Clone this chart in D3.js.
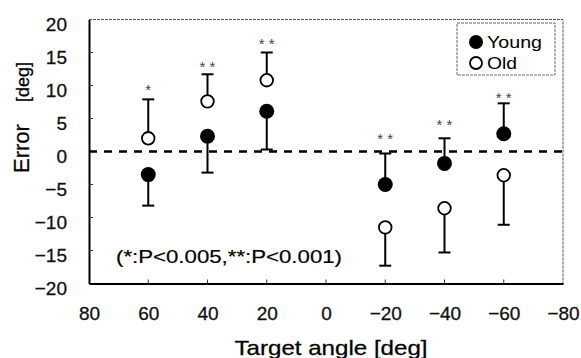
<!DOCTYPE html>
<html>
<head>
<meta charset="utf-8">
<script src="https://cdn.jsdelivr.net/npm/d3@7"></script>
<style>
  body { margin: 0; background: #fff; }
  svg { display: block; font-family: "Liberation Sans", Arial, sans-serif; }
</style>
</head>
<body>
<svg id="chart" width="581" height="358"></svg>
<script>
// target angles (deg)
const angles = [60, 40, 20, -20, -40, -60]
// mean error (deg)
const youngMean = [-3.5, 2.3, 6.1, -5.0, -1.8, 2.7]
const oldMean = [2.0, 7.6, 10.8, -11.5, -8.6, -3.6]
// one-sided SD bars
const youngSd = [4.7, 5.5, 5.8, 4.7, 3.8, 4.6]
const oldSd = [5.9, 4.1, 4.2, 5.8, 6.7, 7.5]
// significance marks and their height (deg)
const stars = ['*', '* *', '* *', '* *', '* *', '* *']
const starLevel = [9.5, 13, 16.4, 2.1, 4.2, 8.3]

const xTicks = [80, 60, 40, 20, 0, -20, -40, -60, -80]
const yTicks = [20, 15, 10, 5, 0, -5, -10, -15, -20]

const margin = { left: 89, top: 19.5, right: 18, bottom: 74.5 }
const width = 581, height = 358
const svg = d3.select('#chart')

const x = d3.scaleLinear().domain([80, -80]).range([margin.left, width - margin.right])
const y = d3.scaleLinear().domain([-20, 20]).range([height - margin.bottom, margin.top])

const minus = d => d < 0 ? '−' + (-d) : d

// frame: faint top / right
svg.append('path')
  .attr('d', `M${x(80)},${y(20)}H${x(-80)}V${y(-20)}`)
  .attr('fill', 'none')
  .attr('stroke', '#555')
  .attr('stroke-width', 1)
  .attr('stroke-dasharray', '3,1')

// axes
const xAxis = svg.append('g')
  .attr('transform', `translate(0,${y(-20)})`)
  .call(d3.axisBottom(x).tickValues(xTicks).tickSize(0).tickPadding(0).tickFormat(minus))
xAxis.select('.domain').attr('stroke', '#000').attr('stroke-width', 2)
xAxis.selectAll('text')
  .attr('y', 36.5)
  .attr('dy', 0)
  .attr('font-size', 19)
  .attr('fill', '#111')
  .attr('stroke', '#111').attr('stroke-width', 0.3)
  .attr('font-family', '"Liberation Sans", Arial, sans-serif')

svg.append('g').selectAll('line')
  .data(xTicks.slice(1, -1))
  .enter().append('line')
  .attr('x1', d => x(d)).attr('x2', d => x(d))
  .attr('y1', y(-20)).attr('y2', y(-20) - 4)
  .attr('stroke', '#333').attr('stroke-width', 1)

const yAxis = svg.append('g')
  .attr('transform', `translate(${x(80)},0)`)
  .call(d3.axisLeft(y).tickValues(yTicks).tickSize(0).tickPadding(22).tickFormat(minus))
yAxis.select('.domain').attr('stroke', '#000').attr('stroke-width', 2)
yAxis.selectAll('text')
  .attr('dy', '0.58em')
  .attr('font-size', 19)
  .attr('fill', '#111')
  .attr('stroke', '#111').attr('stroke-width', 0.3)
  .attr('font-family', '"Liberation Sans", Arial, sans-serif')

svg.append('g').selectAll('line')
  .data(yTicks.slice(1, -1))
  .enter().append('line')
  .attr('x1', x(80)).attr('x2', x(80) + 4)
  .attr('y1', d => y(d)).attr('y2', d => y(d))
  .attr('stroke', '#333').attr('stroke-width', 1)

// zero line
svg.append('line')
  .attr('x1', x(80)).attr('x2', x(-80))
  .attr('y1', y(0)).attr('y2', y(0))
  .attr('stroke', '#000')
  .attr('stroke-width', 2.5)
  .attr('stroke-dasharray', '8,7')

// axis titles
svg.append('text')
  .attr('x', 331)
  .attr('y', 355)
  .attr('text-anchor', 'middle')
  .attr('font-size', 21)
  .attr('textLength', 193)
  .attr('lengthAdjust', 'spacingAndGlyphs')
  .attr('stroke', '#111').attr('stroke-width', 0.3)
  .text('Target angle [deg]')

const yt = svg.append('text')
  .attr('transform', 'translate(29,173) rotate(-90)')
  .attr('text-anchor', 'start')
  .attr('stroke', '#111').attr('stroke-width', 0.3)
yt.append('tspan').attr('font-size', 22).text('Error')
yt.append('tspan').attr('font-size', 18).attr('dx', 22).text('[deg]')

// points
const rows = angles.map((a, i) => ({
  a,
  young: youngMean[i], old: oldMean[i],
  ySd: youngSd[i], oSd: oldSd[i],
  star: stars[i], starY: starLevel[i]
}))

const cap = 6
const g = svg.append('g')

rows.forEach(d => {
  const youngUp = d.young > d.old
  const bars = [
    { m: d.young, e: youngUp ? d.young + d.ySd : d.young - d.ySd },
    { m: d.old, e: youngUp ? d.old - d.oSd : d.old + d.oSd }
  ]
  bars.forEach(b => {
    g.append('line')
      .attr('x1', x(d.a)).attr('x2', x(d.a))
      .attr('y1', y(b.m)).attr('y2', y(b.e))
      .attr('stroke', '#000').attr('stroke-width', 2)
    g.append('line')
      .attr('x1', x(d.a) - cap).attr('x2', x(d.a) + cap)
      .attr('y1', y(b.e)).attr('y2', y(b.e))
      .attr('stroke', '#000').attr('stroke-width', 2)
  })
})

g.selectAll('.young')
  .data(rows)
  .enter().append('circle')
  .attr('class', 'young')
  .attr('cx', d => x(d.a))
  .attr('cy', d => y(d.young))
  .attr('r', 7.5)
  .attr('fill', '#000')

g.selectAll('.old')
  .data(rows)
  .enter().append('circle')
  .attr('class', 'old')
  .attr('cx', d => x(d.a))
  .attr('cy', d => y(d.old))
  .attr('r', 6.3)
  .attr('fill', '#fff')
  .attr('stroke', '#000')
  .attr('stroke-width', 1.8)

g.selectAll('.star')
  .data(rows)
  .enter().append('text')
  .attr('class', 'star')
  .attr('x', d => x(d.a))
  .attr('y', d => y(d.starY) + 6)
  .attr('text-anchor', 'middle')
  .attr('font-size', 15)
  .attr('fill', '#444')
  .text(d => d.star)

// note
svg.append('text')
  .attr('x', 116)
  .attr('y', 263)
  .attr('font-size', 18)
  .attr('textLength', 226)
  .attr('lengthAdjust', 'spacingAndGlyphs')
  .attr('stroke', '#111').attr('stroke-width', 0.2)
  .text('(*:P<0.005,**:P<0.001)')

// legend
const lg = svg.append('g')
lg.append('rect')
  .attr('x', 457).attr('y', 23)
  .attr('width', 98).attr('height', 52)
  .attr('fill', '#fff')
  .attr('stroke', '#666')
  .attr('stroke-width', 1)
  .attr('stroke-dasharray', '3,1')
lg.append('circle').attr('cx', 476).attr('cy', 42).attr('r', 7).attr('fill', '#000')
lg.append('circle').attr('cx', 476).attr('cy', 63).attr('r', 6).attr('fill', '#fff')
  .attr('stroke', '#000').attr('stroke-width', 1.8)
lg.append('text').attr('x', 487).attr('y', 48).attr('font-size', 17)
  .attr('textLength', 55).attr('lengthAdjust', 'spacingAndGlyphs').text('Young')
lg.append('text').attr('x', 487).attr('y', 69).attr('font-size', 17)
  .attr('textLength', 30).attr('lengthAdjust', 'spacingAndGlyphs').text('Old')
</script>
</body>
</html>
